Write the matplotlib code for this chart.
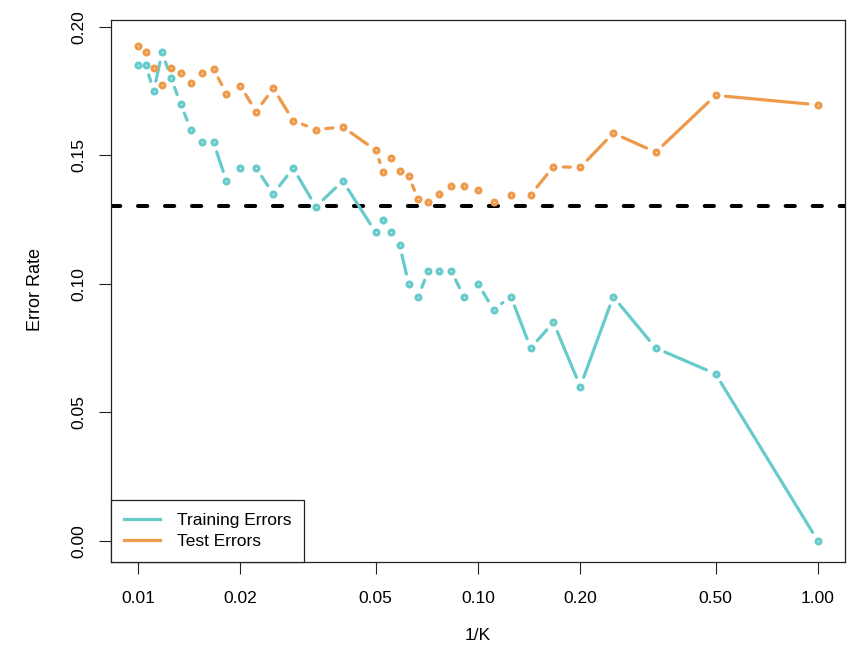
import numpy as np
import matplotlib.pyplot as plt
from matplotlib.lines import Line2D

plt.rcParams['font.family'] = ['Liberation Sans', 'DejaVu Sans']

# number of neighbours used; the x axis shows 1/K
k_values = [100, 95, 90, 85, 80, 75, 70, 65, 60, 55, 50, 45, 40, 35, 30, 25,
            20, 19, 18, 17, 16, 15, 14, 13, 12, 11, 10, 9, 8, 7, 6, 5, 4, 3, 2, 1]

train_err = [0.185, 0.185, 0.175, 0.190, 0.180, 0.170, 0.160, 0.155, 0.155, 0.140,
             0.145, 0.145, 0.135, 0.145, 0.130, 0.140,
             0.120, 0.125, 0.120, 0.115, 0.100, 0.095, 0.105, 0.105, 0.105, 0.095,
             0.100, 0.090, 0.095, 0.075, 0.085, 0.060, 0.095, 0.075, 0.065, 0.000]

test_err = [0.1925, 0.190, 0.184, 0.1775, 0.184, 0.182, 0.178, 0.182, 0.1835, 0.174,
            0.177, 0.167, 0.176, 0.1635, 0.160, 0.161,
            0.152, 0.1435, 0.1488, 0.144, 0.142, 0.1328, 0.1318, 0.135, 0.138, 0.138,
            0.1363, 0.132, 0.1346, 0.1346, 0.1455, 0.1453, 0.1586, 0.1512, 0.1733, 0.1696]

bayes_rate = 0.1304

x_ticks = [0.01, 0.02, 0.05, 0.10, 0.20, 0.50, 1.00]
x_tick_labels = ["0.01", "0.02", "0.05", "0.10", "0.20", "0.50", "1.00"]
y_ticks = [0.00, 0.05, 0.10, 0.15, 0.20]
y_tick_labels = ["0.00", "0.05", "0.10", "0.15", "0.20"]

cyan = "#68CBCB"
orange = "#EE9A4B"

W, H = 868, 654
fig = plt.figure(figsize=(W / 100, H / 100), dpi=100)
ax = fig.add_axes([111 / W, 1 - 562 / H, (845 - 111) / W, (562 - 20) / H])
ax.set_xscale('log')
ax.set_xlim(0.00832, 1.202)
ax.set_ylim(-0.0082, 0.2026)

inv_k = 1.0 / np.array(k_values, dtype=float)


def gapped_line(x, y, color, gap=10.0):
    # R style type="b": segments stop short of each point
    pts = ax.transData.transform(np.column_stack([x, y]))
    inv = ax.transData.inverted()
    for p0, p1 in zip(pts[:-1], pts[1:]):
        d = p1 - p0
        L = np.hypot(*d)
        if L <= 2 * gap:
            continue
        u = d / L
        seg = inv.transform(np.array([p0 + u * gap, p1 - u * gap]))
        ax.plot(seg[:, 0], seg[:, 1], color=color, lw=2.3,
                solid_capstyle='round')
    ax.plot(x, y, 'o', color=color, ms=5.8, mec='none')
    ax.plot(x, y, 'o', color='white', ms=1.0, mec='none')


ax.axhline(bayes_rate, color='black', lw=2.9, ls=(0, (2.3, 4.4)),
           dash_capstyle='round', zorder=1)
gapped_line(inv_k, train_err, cyan)
gapped_line(inv_k, test_err, orange)

ax.set_xticks(x_ticks)
ax.set_xticklabels(x_tick_labels)
ax.xaxis.set_minor_locator(plt.NullLocator())
ax.set_yticks(y_ticks)
ax.set_yticklabels(y_tick_labels, rotation=90, va='center')
ax.tick_params(length=8.5, width=0.8, labelsize=12.5, color='#222222')
ax.tick_params(axis='x', pad=12.5)
ax.tick_params(axis='y', pad=9)
for s in ax.spines.values():
    s.set_linewidth(0.9)
    s.set_color('#222222')

fig.text(478 / W, 1 - 636 / H, "1/K", ha='center', va='center', fontsize=12.5)
fig.text(36 / W, 1 - 290 / H, "Error Rate", ha='center', va='center',
         rotation=90, fontsize=13)

handles = [Line2D([], [], color=cyan, lw=2.3),
           Line2D([], [], color=orange, lw=2.3)]
leg = ax.legend(handles, ["Training Errors", "Test Errors"], loc='lower left',
                bbox_to_anchor=(0, 0), borderaxespad=0, fontsize=12.5,
                fancybox=False, handlelength=2.1, handletextpad=0.95,
                borderpad=0.75, labelspacing=0.32, framealpha=1)
leg.get_frame().set_edgecolor('#222222')
leg.get_frame().set_linewidth(0.9)

fig.savefig("out.png", dpi=100)
